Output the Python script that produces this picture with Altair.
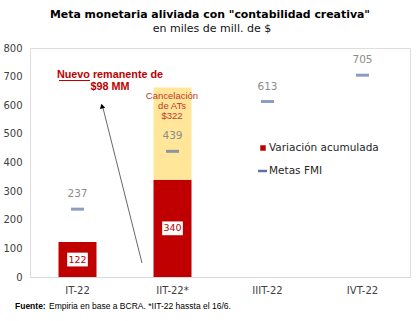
import altair as alt
import pandas as pd

quarters = ["IT-22", "IIT-22*", "IIIT-22", "IVT-22"]
variacion = [122, 340, None, None]
cancelacion = [None, 322, None, None]
metas = [237, 439, 613, 705]
y_ticks = [0, 100, 200, 300, 400, 500, 600, 700, 800]

RED = "#C00000"
YELLOW = "#FFE699"
BLUE = "#5B73A6"
GRAY = "#8C8C8C"

var_df = pd.DataFrame([{"q": q, "start": 0, "end": v, "mid": v / 2, "lab": str(v)}
                       for q, v in zip(quarters, variacion) if v is not None])
can_df = pd.DataFrame([{"q": q, "start": v, "end": v + c}
                       for q, v, c in zip(quarters, variacion, cancelacion) if c is not None])
met_df = pd.DataFrame({"q": quarters, "meta": metas, "lab": [str(m) for m in metas]})

xaxis = alt.Axis(title=None, labelAngle=0, ticks=False, domainColor="#D9D9D9",
                 labelFont="DejaVu Sans", labelFontSize=10, labelColor="#404040",
                 labelPadding=8)
yaxis = alt.Axis(title=None, values=y_ticks, tickCount=9, grid=False, domain=False,
                 ticks=False, labelFont="DejaVu Sans", labelFontSize=10,
                 labelColor="#404040", labelPadding=8, labelOverlap=False,
                 labelFlush=False)
xscale = alt.Scale(paddingInner=0.6, paddingOuter=0.3)
yscale = alt.Scale(domain=[0, 800], nice=False)


def X():
    return alt.X("q:N", sort=quarters, scale=xscale, axis=xaxis)


def Y(field):
    return alt.Y(field, scale=yscale, axis=yaxis)


bars_var = alt.Chart(var_df).mark_bar(color=RED).encode(x=X(), y=Y("start:Q"), y2="end:Q")

bars_can = alt.Chart(can_df).mark_bar(color=YELLOW).encode(x=X(), y=Y("start:Q"), y2="end:Q")

boxes = alt.Chart(var_df).mark_point(
    shape="M-1.5,-1L1.5,-1L1.5,1L-1.5,1Z", filled=True, color="white", opacity=1, size=190
).encode(x=X(), y=Y("mid:Q"))

box_text = alt.Chart(var_df).mark_text(
    color=RED, font="DejaVu Sans", fontSize=9.5, baseline="middle"
).encode(x=X(), y=Y("mid:Q"), text="lab:N")

ticks = alt.Chart(met_df).mark_tick(color=BLUE, thickness=3, size=13, orient="horizontal").encode(
    x=X(), y=Y("meta:Q"))

tick_text = alt.Chart(met_df).mark_text(
    color=GRAY, font="DejaVu Sans", fontSize=10.5, dy=-15, baseline="middle"
).encode(x=X(), y=Y("meta:Q"), text="lab:N")


def txt(s, x, y, size, color="#000000", weight="normal", align="center", font="DejaVu Sans"):
    return alt.Chart(pd.DataFrame({"t": [s]})).mark_text(
        fontSize=size, color=color, fontWeight=weight, align=align, baseline="middle", font=font
    ).encode(x=alt.value(x), y=alt.value(y), text="t:N")


one = pd.DataFrame({"a": [0]})

title = txt('Meta monetaria aliviada con "contabilidad creativa"', 180, -33, 10.9, weight="bold")
subtitle = txt("en miles de mill. de $", 182, -19, 11, color="#111111")

ann1 = txt("Nuevo remanente de", 80, 27, 10.8, color=RED, weight="bold", font="Liberation Sans")
ann2 = txt("$98 MM", 80, 39, 10.8, color=RED, weight="bold", font="Liberation Sans")
underline = alt.Chart(one).mark_rule(color=RED, strokeWidth=1).encode(
    x=alt.value(29), x2=alt.value(60), y=alt.value(32.5), y2=alt.value(32.5))

arrow = alt.Chart(one).mark_rule(color="#404040", strokeWidth=0.8).encode(
    x=alt.value(112), x2=alt.value(73), y=alt.value(215), y2=alt.value(60))
arrow_head = alt.Chart(one).mark_point(shape="triangle-up", filled=True, color="#000000",
                                       size=30, angle=346, opacity=1).encode(
    x=alt.value(72), y=alt.value(58))

can1 = txt("Cancelación", 142, 48, 9.5, color="#C0392B", font="Liberation Sans")
can2 = txt("de ATs", 142, 58, 9.5, color="#C0392B", font="Liberation Sans")
can3 = txt("$322", 142, 68, 9.5, color="#C0392B", font="Liberation Sans")

leg_sq = alt.Chart(one).mark_square(color=RED, size=30, opacity=1).encode(
    x=alt.value(233), y=alt.value(100))
leg_t1 = txt("Variación acumulada", 239, 100, 10.5, color="#262626", align="left")
leg_dash = alt.Chart(one).mark_rule(color=BLUE, strokeWidth=2.5).encode(
    x=alt.value(228), x2=alt.value(237), y=alt.value(123), y2=alt.value(123))
leg_t2 = txt("Metas FMI", 239, 123, 10.5, color="#262626", align="left")

foot1 = txt("Fuente:", -15, 258, 8.5, weight="bold", align="left", font="Liberation Sans")
foot2 = txt("Empiria en base a BCRA. *IIT-22 hassta el 16/6.", 19, 258, 8.5, align="left",
            font="Liberation Sans")

chart = alt.layer(
    bars_var, bars_can, boxes, box_text, ticks, tick_text,
    title, subtitle, ann1, ann2, underline, arrow, arrow_head,
    can1, can2, can3, leg_sq, leg_t1, leg_dash, leg_t2, foot1, foot2
).properties(
    width=380, height=229, autosize="none",
    padding={"left": 30, "top": 48, "right": 10, "bottom": 44}
).configure_view(stroke=None, strokeWidth=0, strokeOpacity=0).configure(background="white")

chart.save("out.html", embed_options={"renderer": "svg", "actions": False})
